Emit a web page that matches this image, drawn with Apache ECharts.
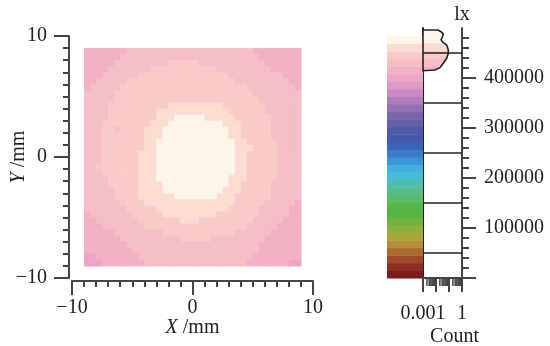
<!DOCTYPE html>
<html><head><meta charset="utf-8">
<script src="https://cdn.jsdelivr.net/npm/echarts@6/dist/echarts.min.js"></script>
<style>html,body{margin:0;padding:0;background:#fff}#c{width:550px;height:346px}</style>
</head><body><div id="c"></div>
<script>
// ---------- data ----------
const mapAxisTicks = [-10, 0, 10];
const cellSize = 0.5;            // mm per map cell
const mapLeft = -9, mapTop = 9;  // mm, top-left corner of map
// illuminance level code per cell, run-length coded "level:count", rows from top (y=9) to bottom (y=-9)
const heatLevelRows = [
  '1:7 2:21 1:8',
  '1:6 2:23 1:7',
  '1:5 2:9 3:5 2:11 1:6',
  '1:4 2:7 3:11 2:9 1:5',
  '1:3 2:6 3:15 2:9 1:3',
  '1:2 2:5 3:18 2:9 1:2',
  '1:1 2:5 3:21 2:8 1:1',
  '2:5 3:23 2:8',
  '2:5 3:24 2:7',
  '2:4 3:10 4:9 3:7 2:6',
  '2:4 3:8 4:12 3:6 2:6',
  '2:4 3:8 4:3 5:5 4:5 3:6 2:5',
  '2:3 3:8 4:3 5:9 4:3 3:5 2:5',
  '2:3 3:2 2:1 3:4 4:3 5:11 4:2 3:5 2:5',
  '2:3 3:7 4:3 5:11 4:2 3:5 2:5',
  '2:3 3:7 4:2 5:13 4:2 3:5 2:4',
  '2:3 3:7 4:2 5:13 4:3 3:4 2:4',
  '2:3 3:6 4:3 5:13 4:2 3:5 2:4',
  '2:3 3:6 4:3 5:13 4:2 3:5 2:4',
  '2:2 3:7 4:3 5:13 4:2 3:5 2:4',
  '2:3 3:6 4:3 5:13 4:2 3:5 2:4',
  '2:4 3:5 4:3 5:12 4:3 3:5 2:4',
  '2:4 3:5 4:4 5:11 4:2 3:5 2:5',
  '2:5 3:4 4:4 5:10 4:3 3:5 2:5',
  '2:5 3:4 4:6 5:7 4:3 3:6 2:5',
  '2:6 3:4 4:15 3:5 2:5 1:1',
  '2:7 3:5 4:12 3:5 2:5 1:2',
  '1:1 2:7 3:5 4:9 3:7 2:5 1:2',
  '1:2 2:7 3:7 4:3 3:9 2:5 1:3',
  '1:3 2:7 3:17 2:5 1:4',
  '1:5 2:8 3:12 2:6 1:5',
  '1:6 2:10 3:5 2:9 1:6',
  '1:7 2:22 1:7',
  '1:8 2:21 1:7',
  '0:2 1:7 2:19 1:8',
  '0:3 1:7 2:17 1:7 0:2'
];
const levelValues = [398000, 413000, 429000, 444000, 460000, 476000]; // lx
// colour bar bands, bottom (0 lx) to top
const colorbarColors = ['#7a1c1c','#8c2e22','#9c4a28','#ac6c30','#b48e38','#aaa83c','#8eb040','#70b23e',
  '#58b440','#56b64c','#5cba68','#58bc88','#50bcb0','#48bcd0','#40b0e0','#3a98d8','#3c7cc8','#3c64b4',
  '#4458ac','#5058a8','#6460a8','#7a66ac','#9470b4','#b07cbc','#cc88c0','#e098c4','#eea4c4','#f3b2c3',
  '#f6bec6','#f8cbc9','#fbdcd0','#fdf5e8'];
const colorbarMax = 484000;
const lxAxisMax = 500000;
const lxTickValues = [0, 100000, 200000, 300000, 400000];
const lxLabelValues = [100000, 200000, 300000, 400000];
const histBinLines = [50000, 150000, 250000, 350000, 450000];
const histValues = [496000, 496000, 492600, 487400, 481400, 476000, 470600, 466000, 456000, 449400, 439400, 429400, 420600, 416000, 414600];
const histCounts = [0.001, 0.0143, 0.0243, 0.0365, 0.0305, 0.0243, 0.0365, 0.0665, 0.0884, 0.0884, 0.0665, 0.0365, 0.0203, 0.0084, 0.001];
const countLabelValues = [0.001, 1];
const countMinorTicks = [0.002,0.003,0.004,0.005,0.006,0.007,0.008,0.009,0.02,0.03,0.04,0.05,0.06,0.07,0.08,0.09,0.2,0.3,0.4,0.5,0.6,0.7,0.8,0.9];

// ---------- helpers ----------
const FONT = 'Liberation Serif';
const INK = '#222';
const AX = '#444';
const cbStep = colorbarMax / colorbarColors.length;
function colorFor(v) {
  let k = Math.floor(v / cbStep);
  k = Math.max(0, Math.min(colorbarColors.length - 1, k));
  return colorbarColors[k];
}
const heatData = [];
heatLevelRows.forEach((row, i) => {
  let j = 0;
  row.split(' ').forEach(seg => {
    const [lv, n] = seg.split(':').map(Number);
    for (let k = 0; k < n; k++) {
      heatData.push([mapLeft + cellSize * (j + 0.5), mapTop - cellSize * (i + 0.5), levelValues[lv]]);
      j++;
    }
  });
});
function bandGradient(vmax, vmin) {
  const edges = [vmax];
  for (let k = colorbarColors.length; k >= 0; k--) { const e = k * cbStep; if (e < vmax && e > vmin) edges.push(e); }
  edges.push(vmin);
  const stops = [];
  for (let i = 0; i < edges.length - 1; i++) {
    const a = edges[i], b = edges[i + 1], c = colorFor((a + b) / 2);
    stops.push({offset: (vmax - a) / (vmax - vmin), color: c}, {offset: (vmax - b) / (vmax - vmin), color: c});
  }
  return new echarts.graphic.LinearGradient(0, 0, 0, 1, stops);
}
const txt = {fontFamily: FONT, fontSize: 20, color: INK};
const nameStyle = {fontFamily: FONT, fontSize: 20, color: INK, rich: {it: {fontFamily: FONT, fontSize: 20, fontStyle: 'italic', color: INK}}};

const chart = echarts.init(document.getElementById('c'), null, {renderer: 'canvas'});
chart.setOption({
  animation: false,
  backgroundColor: '#fff',
  grid: [
    {left: 72, top: 36, width: 241, height: 242, containLabel: false, outerBoundsMode: 'none'},
    {left: 387, top: 28, width: 36, height: 250, containLabel: false, outerBoundsMode: 'none'},
    {left: 423, top: 28, width: 39, height: 250, containLabel: false, outerBoundsMode: 'none'}
  ],
  xAxis: [
    {gridIndex: 0, type: 'value', min: mapAxisTicks[0], max: mapAxisTicks[2], interval: 10, offset: 3,
     axisLine: {onZero: false, lineStyle: {color: AX, width: 2}},
     axisTick: {length: 14, lineStyle: {color: AX, width: 2}},
     minorTick: {show: true, splitNumber: 10, length: 6, lineStyle: {color: AX, width: 2}},
     splitLine: {show: false}, minorSplitLine: {show: false},
     axisLabel: Object.assign({margin: 17, formatter: v => String(v).replace('-', '\u2212')}, txt),
     name: '{it|X} /mm', nameLocation: 'middle', nameGap: 37, nameTextStyle: nameStyle, nameMoveOverlap: false},
    {gridIndex: 1, type: 'value', min: 0, max: 1, show: false},
    {gridIndex: 2, type: 'log', logBase: 10, min: 0.001, max: 1,
     axisLine: {onZero: false, lineStyle: {color: AX, width: 2}},
     axisTick: {length: 14, lineStyle: {color: AX, width: 2}},
     splitLine: {show: false},
     axisLabel: Object.assign({margin: 26, formatter: v => countLabelValues.some(t => Math.abs(t - v) <= t * 1e-6) ? String(v) : ''}, txt),
     name: 'Count', nameLocation: 'middle', nameGap: 49, nameTextStyle: Object.assign({padding: [0, 0, 0, 24]}, txt), nameMoveOverlap: false}
  ],
  yAxis: [
    {gridIndex: 0, type: 'value', min: mapAxisTicks[0], max: mapAxisTicks[2], interval: 10, offset: 3,
     axisLine: {onZero: false, lineStyle: {color: AX, width: 2}},
     axisTick: {length: 15, lineStyle: {color: AX, width: 2}},
     minorTick: {show: true, splitNumber: 10, length: 6, lineStyle: {color: AX, width: 2}},
     splitLine: {show: false}, minorSplitLine: {show: false},
     axisLabel: Object.assign({margin: 22, formatter: v => String(v).replace('-', '\u2212')}, txt),
     name: '{it|Y} /mm', nameLocation: 'middle', nameGap: 40, nameRotate: 90, nameTextStyle: nameStyle, nameMoveOverlap: false},
    {gridIndex: 1, type: 'value', min: 0, max: lxAxisMax, position: 'right',
     axisLine: {show: true, onZero: false, lineStyle: {color: INK, width: 2}}, axisTick: {show: false}, axisLabel: {show: false}, splitLine: {show: false}},
    {gridIndex: 2, type: 'value', min: 0, max: lxAxisMax, interval: 100000, position: 'right',
     axisLine: {show: true, onZero: false, lineStyle: {color: AX, width: 2}},
     axisTick: {show: true, length: 14, customValues: lxTickValues, lineStyle: {color: AX, width: 2}},
     minorTick: {show: true, splitNumber: 5, length: 7, lineStyle: {color: AX, width: 2}},
     splitLine: {show: false}, minorSplitLine: {show: false},
     axisLabel: Object.assign({margin: 22, customValues: lxLabelValues, formatter: v => lxLabelValues.indexOf(v) >= 0 ? String(v) : ''}, txt),
     name: 'lx', nameLocation: 'end', nameGap: 3, nameTextStyle: txt, nameMoveOverlap: false}
  ],
  series: [
    {type: 'custom', name: 'map', xAxisIndex: 0, yAxisIndex: 0, data: heatData, encode: {x: 0, y: 1},
     renderItem: (params, api) => {
       const x = api.value(0), y = api.value(1), v = api.value(2);
       const p0 = api.coord([x - cellSize / 2, y + cellSize / 2]);
       const p1 = api.coord([x + cellSize / 2, y - cellSize / 2]);
       return {type: 'rect', shape: {x: p0[0], y: p0[1], width: p1[0] - p0[0] + 0.6, height: p1[1] - p0[1] + 0.6}, style: {fill: colorFor(v)}};
     }},
    {type: 'custom', name: 'colorbar', xAxisIndex: 1, yAxisIndex: 1, data: colorbarColors.map((c, k) => [0.5, k]), encode: {x: 0, y: 1},
     renderItem: (params, api) => {
       const k = api.value(1);
       const p0 = api.coord([0, (k + 1) * cbStep]);
       const p1 = api.coord([1, k * cbStep]);
       return {type: 'rect', shape: {x: p0[0], y: p0[1], width: p1[0] - p0[0], height: p1[1] - p0[1] + 0.5}, style: {fill: colorbarColors[k]}};
     }},
    {type: 'custom', name: 'histogram', xAxisIndex: 2, yAxisIndex: 2, data: [[0.01, 450000]], encode: {x: 0, y: 1},
     renderItem: (params, api) => {
       const pts = histCounts.map((c, i) => api.coord([c, histValues[i]]));
       const vmax = Math.max.apply(null, histValues), vmin = Math.min.apply(null, histValues);
       return {type: 'polygon', shape: {points: pts}, style: {fill: bandGradient(vmax, vmin), stroke: INK, lineWidth: 1.6}};
     }},
    {type: 'custom', name: 'bins', xAxisIndex: 2, yAxisIndex: 2, data: histBinLines.map(v => [0.01, v]), encode: {x: 0, y: 1}, z: 3,
     renderItem: (params, api) => {
       const v = api.value(1);
       const p0 = api.coord([0.001, v]), p1 = api.coord([1, v]);
       return {type: 'line', shape: {x1: p0[0], y1: p0[1], x2: p1[0], y2: p1[1]}, style: {stroke: INK, lineWidth: 1.6}};
     }},
    {type: 'custom', name: 'countMinor', xAxisIndex: 2, yAxisIndex: 2, data: countMinorTicks.map(c => [c, 0]), encode: {x: 0, y: 1},
     renderItem: (params, api) => {
       const p = api.coord([api.value(0), 0]);
       return {type: 'line', shape: {x1: p[0], y1: p[1], x2: p[0], y2: p[1] + 8}, style: {stroke: AX, lineWidth: 1.5}};
     }}
  ]
});
</script></body></html>
